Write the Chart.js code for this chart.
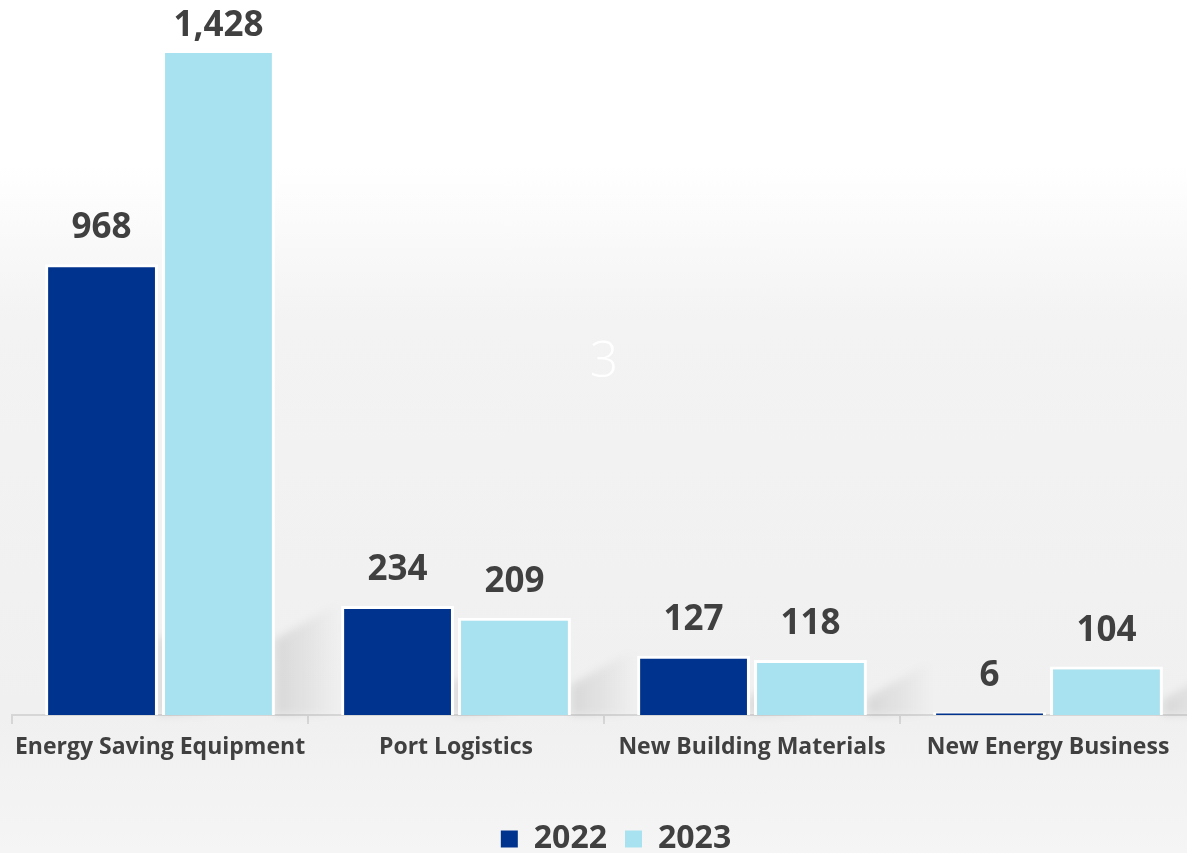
<!DOCTYPE html>
<html>
<head>
<meta charset="utf-8">
<title>Segment revenue 2022 vs 2023</title>
<script src="https://cdn.jsdelivr.net/npm/chart.js@4.4.1/dist/chart.umd.min.js"></script>
<style>
  html, body { margin: 0; padding: 0; overflow: hidden; }
  body {
    width: 1187px;
    height: 853px;
    background: linear-gradient(to bottom, #ffffff 0px, #ffffff 165px, #f3f3f3 320px, #f0f0f0 715px, #f5f5f5 853px);
  }
  #chart-wrap { position: relative; width: 1196px; height: 865px; }
</style>
</head>
<body>
<div id="chart-wrap"><canvas id="segment-chart"></canvas></div>
<script>
// Revenue by business segment, 2022 vs 2023
const categories = ["Energy Saving Equipment", "Port Logistics", "New Building Materials", "New Energy Business"];
const seriesNames = ["2022", "2023"];
const values2022 = [968, 234, 127, 6];
const values2023 = [1428, 209, 118, 104];
const seriesColors = ["#00338d", "#a8e2f0"];
const pageNumber = "3";

const FONT = "'Open Sans', 'Noto Sans', sans-serif";
const TEXT_COLOR = "#404040";

// soft diagonal shadow cast to the right of every bar
const barShadows = {
  id: "barShadows",
  beforeDatasetsDraw(chart) {
    const { ctx, chartArea } = chart;
    const base = chartArea.bottom;
    ctx.save();
    ctx.filter = "blur(4px)";
    chart.data.datasets.forEach((ds, i) => {
      chart.getDatasetMeta(i).data.forEach(bar => {
        const h = base - bar.y;
        if (h < 20) return;
        const xr = bar.x + bar.width / 2;
        const hs = Math.min(h * 0.3, 75);
        const grad = ctx.createLinearGradient(xr, 0, xr + 65, 0);
        grad.addColorStop(0, "rgba(0,0,0,0.10)");
        grad.addColorStop(1, "rgba(0,0,0,0)");
        ctx.fillStyle = grad;
        ctx.beginPath();
        ctx.moveTo(xr, base);
        ctx.lineTo(xr, base - hs);
        ctx.lineTo(xr + 65, base - hs - 38);
        ctx.lineTo(xr + 65, base);
        ctx.closePath();
        ctx.fill();
      });
    });
    ctx.restore();

    // faint page number behind the bars
    ctx.save();
    ctx.fillStyle = "#ffffff";
    ctx.font = "300 50px " + FONT;
    ctx.textAlign = "center";
    ctx.textBaseline = "middle";
    ctx.fillText(pageNumber, (chartArea.left + chartArea.right) / 2,
      chartArea.top + (chartArea.bottom - chartArea.top) * 0.47);
    ctx.restore();
  }
};

// value labels above each bar
const valueLabels = {
  id: "valueLabels",
  afterDatasetsDraw(chart) {
    const { ctx } = chart;
    ctx.save();
    ctx.fillStyle = TEXT_COLOR;
    ctx.font = "bold 35px " + FONT;
    ctx.textAlign = "center";
    ctx.textBaseline = "alphabetic";
    chart.data.datasets.forEach((ds, i) => {
      chart.getDatasetMeta(i).data.forEach((bar, j) => {
        const label = ds.data[j].toLocaleString("en-US");
        ctx.fillText(label, bar.x, Math.max(bar.y - 26, 36));
      });
    });
    ctx.restore();
  }
};

// nudge the legend a little right of the plot centre
const legendOffset = {
  id: "legendOffset",
  afterLayout(chart) {
    const lg = chart.legend;
    if (!lg) return;
    lg.left += 12;
    lg.right += 12;
    lg.legendHitBoxes.forEach(box => { box.left += 12; });
  }
};

const ctx = document.getElementById("segment-chart").getContext("2d");

new Chart(ctx, {
  type: "bar",
  data: {
    labels: categories,
    datasets: [
      {
        label: seriesNames[0],
        data: values2022,
        backgroundColor: seriesColors[0],
        borderColor: "#ffffff",
        borderWidth: 3,
        categoryPercentage: 0.79,
        barPercentage: 0.965
      },
      {
        label: seriesNames[1],
        data: values2023,
        backgroundColor: seriesColors[1],
        borderColor: "#ffffff",
        borderWidth: 3,
        categoryPercentage: 0.79,
        barPercentage: 0.965
      }
    ]
  },
  options: {
    responsive: true,
    maintainAspectRatio: false,
    animation: false,
    layout: { padding: { top: 50, left: 12, right: 0, bottom: 0 } },
    scales: {
      x: {
        grid: {
          display: true,
          drawOnChartArea: false,
          drawTicks: true,
          tickLength: 9,
          color: "#d6d6d6",
          lineWidth: 2
        },
        border: { color: "#d6d6d6", width: 2 },
        ticks: {
          color: TEXT_COLOR,
          font: { family: FONT, size: 23, weight: "bold" },
          padding: 10,
          maxRotation: 0,
          autoSkip: false
        },
        afterFit(scale) {
          scale.height = 90;
        }
      },
      y: {
        display: false,
        min: 0,
        max: Math.max(...values2022, ...values2023)
      }
    },
    plugins: {
      legend: {
        position: "bottom",
        labels: {
          color: TEXT_COLOR,
          font: { family: FONT, size: 32, weight: "bold" },
          boxWidth: 17,
          boxHeight: 17,
          padding: 18,
          generateLabels(chart) {
            return Chart.defaults.plugins.legend.labels.generateLabels(chart)
              .map(item => ({ ...item, lineWidth: 0 }));
          }
        }
      },
      tooltip: { enabled: false }
    }
  },
  plugins: [barShadows, valueLabels, legendOffset]
});
</script>
</body>
</html>
